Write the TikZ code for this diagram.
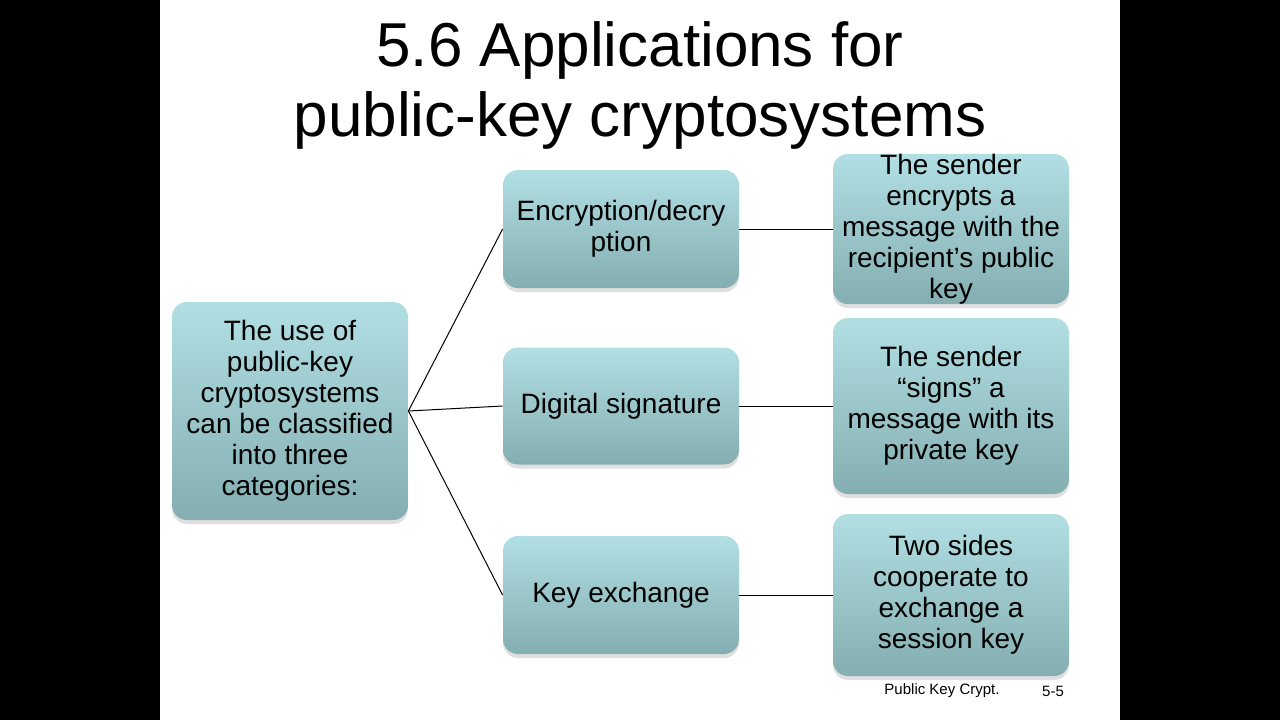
\documentclass[tikz,border=0pt]{standalone}
\usepackage{fontspec}
\setmainfont{Liberation Sans}
\usetikzlibrary{shadows}
\definecolor{boxtop}{HTML}{B1DFE4}
\definecolor{boxbot}{HTML}{84AEB1}
\begin{document}
\begin{tikzpicture}[x=0.5pt,y=-0.5pt,
    box/.style={rounded corners=7.5pt,top color=boxtop,bottom color=boxbot,
      minimum width=118pt,align=center,inner sep=0pt,
      font=\fontsize{14}{15.5}\selectfont,
      drop shadow={shadow xshift=0pt,shadow yshift=-2pt,opacity=0.25}},
    link/.style={line width=0.5pt}]
    \useasboundingbox (0,0) rectangle (1280,720);
    \fill[white] (0,0) rectangle (1280,720);
    \fill[black] (0,0) rectangle (160,720);
    \fill[black] (1120,0) rectangle (1280,720);
    \node (title) at (640,85) [align=center,font=\fontsize{31}{35}\selectfont] {5.6 Applications for\\public-key cryptosystems};
    \node[box,minimum height=109pt] (cls) at (290,411) {The use of\\public-key\\cryptosystems\\can be classified\\into three\\categories:};
    \node[box,minimum height=59pt] (enc) at (621,229) {Encryption/decry\\ption};
    \node[box,minimum height=58.5pt] (sig) at (621,406) {Digital signature};
    \node[box,minimum height=59pt] (kex) at (621,595) {Key exchange};
    \node[box,minimum height=71.5pt] (encd) at (951,229) {The sender\\encrypts a\\message with the\\recipient’s public\\key};
    \node[box,minimum height=88pt] (sigd) at (951,406) {The sender\\“signs” a\\message with its\\private key};
    \node[box,minimum height=81pt] (kexd) at (951,595) {Two sides\\cooperate to\\exchange a\\session key};
    \draw[link] (cls.east) -- (enc.west);
    \draw[link] (cls.east) -- (sig.west);
    \draw[link] (cls.east) -- (kex.west);
    \draw[link] (enc.east) -- (encd.west);
    \draw[link] (sig.east) -- (sigd.west);
    \draw[link] (kex.east) -- (kexd.west);
    \node[font=\fontsize{7.5}{9}\selectfont] (foot) at (942,691) {Public Key Crypt.};
    \node[font=\fontsize{7.5}{9}\selectfont] (page) at (1053,691) {5-5};
\end{tikzpicture}
\end{document}
